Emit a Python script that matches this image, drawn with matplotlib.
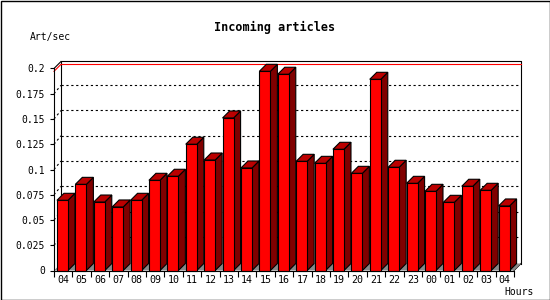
import matplotlib
matplotlib.use("Agg")
import matplotlib.pyplot as plt
from matplotlib.patches import Polygon, Rectangle
import numpy as np

# data
hours = ['04', '05', '06', '07', '08', '09', '10', '11', '12', '13', '14', '15', '16',
         '17', '18', '19', '20', '21', '22', '23', '00', '01', '02', '03', '04']
art_sec = [0.0695, 0.0853, 0.0678, 0.0629, 0.0695, 0.0893, 0.0933, 0.1250, 0.1094,
           0.1510, 0.1015, 0.1972, 0.1943, 0.1081, 0.1061, 0.1200, 0.0962, 0.1893,
           0.1022, 0.0863, 0.0784, 0.0675, 0.0834, 0.0794, 0.0639]
yticks = [0, 0.025, 0.05, 0.075, 0.1, 0.125, 0.15, 0.175, 0.2]
ytick_labels = ['0', '0.025', '0.05', '0.075', '0.1', '0.125', '0.15', '0.175', '0.2']

W, H = 550, 300
fig = plt.figure(figsize=(W / 100, H / 100), dpi=100)
fig.patch.set_facecolor('white')
fig.patches.append(Rectangle((0.5 / W, 0.5 / H), 1 - 1 / W, 1 - 1 / H, transform=fig.transFigure,
                             fill=False, edgecolor='black', lw=1.0))

n = len(hours)
ymax = 0.2
x0, x1 = 54, 514
yb = 270.5
ppu = 1010.0
ax = fig.add_axes([x0 / W, (H - yb) / H, (x1 - x0) / W, ymax * ppu / H])
ax.set_xlim(0, n)
ax.set_ylim(0, ymax)
ax.patch.set_alpha(0)

# 3d depth in data units
depth = 7
dx = depth / ((x1 - x0) / n)
dy = depth / ppu
gdy = 8.5 / ppu  # grid sits a touch higher on the back wall

mono = 'DejaVu Sans Mono'
k = dict(clip_on=False, lw=0.8)
dots = (0, (2, 2.4))

# back wall
ax.add_patch(Polygon([(dx, dy), (n + dx, dy), (n + dx, ymax + dy), (dx, ymax + dy)],
                     closed=True, facecolor='white', edgecolor='none', zorder=0, clip_on=False))
ax.plot([dx, dx, n + dx, n + dx], [dy, ymax + dy, ymax + dy, dy], color='black', zorder=1, **k)
ax.plot([0, dx], [ymax, ymax + dy], color='black', zorder=1, **k)
ax.plot([n, n + dx], [0, dy], color='black', zorder=1, **k)

# dotted grid on back wall and side wall
for v in yticks[1:-1]:
    ax.plot([dx, n + dx], [v + gdy, v + gdy], color='black', ls=dots, zorder=1, **k)
    ax.plot([0, dx], [v, v + gdy], color='black', ls=dots, zorder=1, **k)

# red line at the maximum
vmax = max(art_sec)
ax.plot([dx, n + dx], [vmax + dy, vmax + dy], color='red', zorder=1.5, **k)
ax.plot([0, dx], [vmax, vmax + dy], color='red', zorder=1.5, **k)

# floor
ax.add_patch(Polygon([(0, 0), (n, 0), (n + dx, dy), (dx, dy)], closed=True,
                     facecolor='#888888', edgecolor='none', zorder=2, clip_on=False))

# bars
off, bw = 0.16, 0.6
for i, v in enumerate(art_sec):
    a = i + off
    b = a + bw
    ax.add_patch(Polygon([(b, 0), (b + dx, dy), (b + dx, v + dy), (b, v)], closed=True,
                         facecolor='#800000', edgecolor='black', lw=0.8, zorder=3, clip_on=False))
    ax.add_patch(Polygon([(a, v), (b, v), (b + dx, v + dy), (a + dx, v + dy)], closed=True,
                         facecolor='#bb0000', edgecolor='black', lw=0.8, zorder=3, clip_on=False))
    ax.add_patch(Rectangle((a, 0), bw, v, facecolor='#ff0000', edgecolor='black', lw=0.8,
                           zorder=4, clip_on=False))

for s in ['top', 'right']:
    ax.spines[s].set_visible(False)
for s in ['left', 'bottom']:
    ax.spines[s].set_linewidth(0.8)
    ax.spines[s].set_zorder(5)

ax.set_yticks(yticks)
ax.set_yticklabels(ytick_labels, fontfamily=mono, fontsize=7)
ax.tick_params(axis='y', length=3, width=0.8, pad=3.5)

ax.set_xticks(np.arange(n) + 0.5)
ax.set_xticklabels(hours, fontfamily=mono, fontsize=7.2)
ax.set_xticks(np.arange(n + 1), minor=True)
ax.tick_params(axis='x', which='major', length=0, pad=3.5)
ax.tick_params(axis='x', which='minor', length=4, width=0.8)

fig.text(275 / W, 1 - 27 / H, 'Incoming articles', ha='center', va='center',
         fontfamily=mono, fontweight='bold', fontsize=8.5)
fig.text(30 / W, 1 - 37 / H, 'Art/sec', ha='left', va='center', fontfamily=mono, fontsize=7)
fig.text(534 / W, 1 - 292 / H, 'Hours', ha='right', va='center', fontfamily=mono, fontsize=7)

fig.savefig('out.png', dpi=100)
